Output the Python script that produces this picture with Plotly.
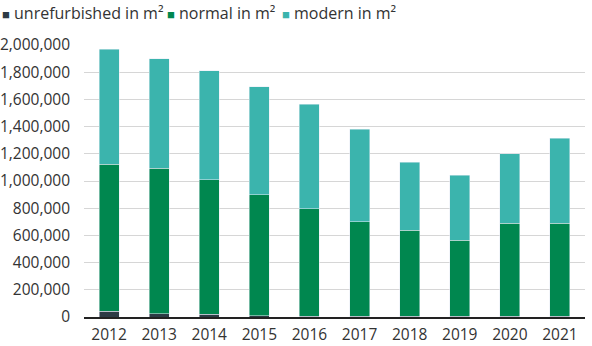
import plotly.graph_objects as go

years = ["2012", "2013", "2014", "2015", "2016", "2017", "2018", "2019", "2020", "2021"]
unrefurbished = [42000, 25000, 22000, 8000, 6000, 5000, 4000, 4000, 4000, 4000]
normal = [1081000, 1068000, 988000, 891000, 791000, 694000, 633000, 562000, 687000, 687000]
modern = [845000, 806000, 801000, 794000, 769000, 683000, 500000, 478000, 510000, 625000]
y_ticks = [0, 200000, 400000, 600000, 800000, 1000000, 1200000, 1400000, 1600000, 1800000, 2000000]

series_names = ["unrefurbished in m²", "normal in m²", "modern in m²"]
series_colors = ["#2d3b45", "#00874f", "#3bb4ad"]
legend_px = [0, 165, 280]

FONT = "Open Sans"
TXT = "#333333"
L, R, T, B = 84, 7, 45, 29
W, H = 592, 346
PW, PH = W - L - R, H - T - B

fig = go.Figure()
for name, vals, col in zip(series_names, [unrefurbished, normal, modern], series_colors):
    fig.add_bar(name=name, x=years, y=vals, marker_color=col)

fig.update_layout(
    width=W, height=H,
    barmode="stack", bargap=0.6,
    paper_bgcolor="white", plot_bgcolor="white",
    margin=dict(l=L, r=R, t=T, b=B),
    font=dict(family=FONT, size=16, color=TXT),
    showlegend=False,
)

for name, col, px in zip(series_names, series_colors, legend_px):
    fig.add_annotation(
        xref="paper", yref="paper",
        x=(px - L) / PW, y=(H - B - 12.5) / PH,
        xanchor="left", yanchor="middle", showarrow=False,
        text=f"<span style='color:{col};font-size:13px'>■</span> {name}",
        font=dict(family=FONT, size=16, color=TXT),
    )

fig.update_xaxes(showgrid=False, showline=True, linecolor="#222222", linewidth=2,
                 automargin=False, ticks="", ticklabelstandoff=2,
                 tickfont=dict(size=15.5, color=TXT))
fig.update_yaxes(range=[0, 2000000], tickvals=y_ticks, tickformat=",d",
                 automargin=False, showgrid=True, gridcolor="#d6d6d6", gridwidth=1,
                 zeroline=False, showline=False, ticks="",
                 ticklabelstandoff=13, tickfont=dict(size=15.5, color=TXT))

fig.write_html("out.html")
